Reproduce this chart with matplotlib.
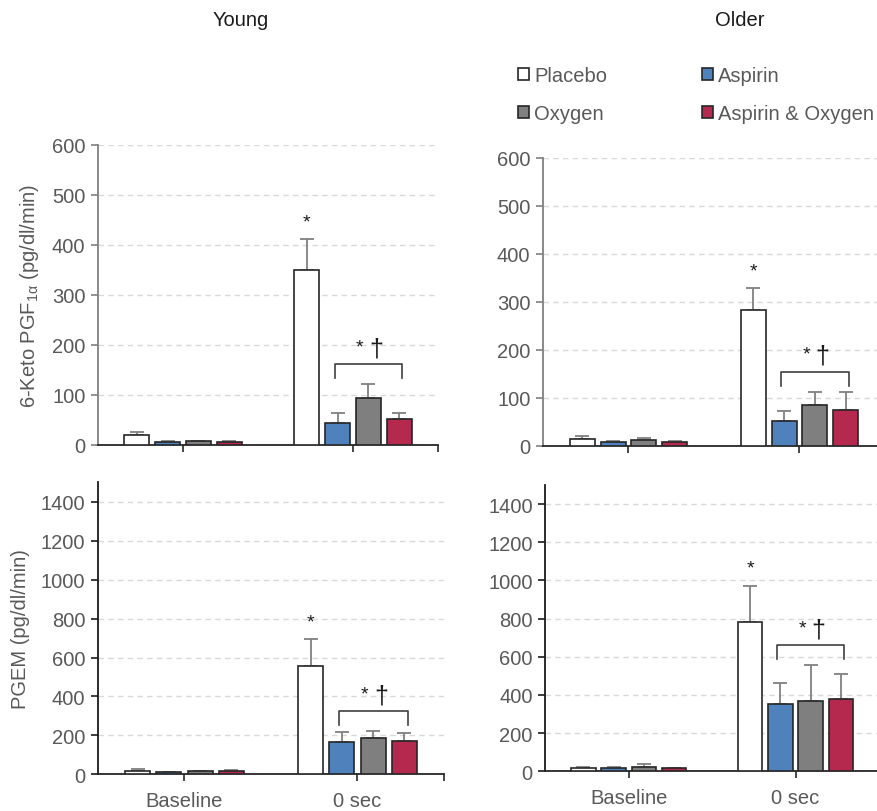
import numpy as np
import matplotlib
matplotlib.use('Agg')
import matplotlib.pyplot as plt
from matplotlib.patches import Patch

plt.rcParams['font.family'] = ['Liberation Sans', 'DejaVu Sans']
plt.rcParams['mathtext.default'] = 'regular'

groups = ['Baseline', '0 sec']
treatments = ['Placebo', 'Aspirin', 'Oxygen', 'Aspirin & Oxygen']
colors = ['#ffffff', '#4f81bd', '#7f7f7f', '#b5294e']

# 6-Keto PGF1a, young
young_pgf = [[19, 350], [5, 44], [7, 94], [5, 51]]
young_pgf_err = [[6, 61], [2, 19], [1, 27], [2, 12]]
# 6-Keto PGF1a, older
older_pgf = [[14, 284], [7, 52], [12, 84], [7, 74]]
older_pgf_err = [[7, 44], [3, 21], [5, 27], [3, 39]]
# PGEM, young
young_pgem = [[18, 558], [12, 164], [15, 189], [15, 171]]
young_pgem_err = [[9, 135], [2, 53], [4, 33], [6, 39]]
# PGEM, older
older_pgem = [[16, 780], [19, 355], [22, 366], [16, 381]]
older_pgem_err = [[8, 193], [3, 108], [15, 189], [3, 129]]

W, H = 878, 812
fig = plt.figure(figsize=(W / 100, H / 100), dpi=100)

# axes rectangles in pixels: x0, x1, y_top, y_bottom
boxes = {
    'tl': (98, 438, 146, 445.7),
    'tr': (543, 885, 159, 446.7),
    'bl': (98, 444, 483.3, 775.3),
    'br': (545.3, 879, 486, 772.3),
}

step = 0.181
bw = 0.146
tick_col = '#595959'


def make_axes(key):
    x0, x1, yt, yb = boxes[key]
    return fig.add_axes([x0 / W, 1 - yb / H, (x1 - x0) / W, (yb - yt) / H])


def panel(key, means, errs, ymax, yticks, xlabels, ylabel=None, spine_col='#808080'):
    ax = make_axes(key)
    x = np.arange(len(groups))
    for i in range(len(treatments)):
        pos = x + (i - 1.5) * step
        ax.bar(pos, means[i], bw, color=colors[i], edgecolor='#262626', linewidth=1.2, zorder=3)
        ax.errorbar(pos, means[i], yerr=[np.zeros(len(groups)), errs[i]], fmt='none',
                    ecolor='#808080', elinewidth=1.3, capsize=5, capthick=1.3, zorder=2)
    ax.set_xlim(-0.5, 1.5)
    ax.set_ylim(0, ymax)
    ax.set_yticks(yticks)
    ax.yaxis.grid(True, color='#d9d9d9', linestyle=(0, (4, 3)), linewidth=1)
    ax.set_axisbelow(True)
    for s in ['top', 'right']:
        ax.spines[s].set_visible(False)
    ax.spines['left'].set_color(spine_col)
    ax.spines['left'].set_linewidth(1.3)
    ax.spines['bottom'].set_color('#262626')
    ax.spines['bottom'].set_linewidth(1.3)
    ax.set_xticks([0, 1, 1.5])
    if xlabels:
        ax.set_xticklabels(groups + [''])
    else:
        ax.set_xticklabels(['', '', ''])
    ax.tick_params(axis='x', length=5, width=1.2, color='#262626', labelsize=14.5,
                   labelcolor=tick_col, pad=7)
    ax.tick_params(axis='y', length=5, width=1.2, color=spine_col, labelsize=14.5,
                   labelcolor=tick_col, pad=4)
    if ylabel:
        ax.set_ylabel(ylabel, fontsize=14.5, color=tick_col, labelpad=8)

    # pixels -> data units
    x0, x1, yt, yb = boxes[key]
    upp = ymax / (yb - yt)
    # asterisk above placebo at 0 sec
    ptop = means[0][1] + errs[0][1]
    ax.text(1 - 1.5 * step, ptop + 9 * upp, '*', ha='center', va='bottom', fontsize=14, color='#1a1a1a')
    # bracket over the three treatment bars
    top = max(means[i][1] + errs[i][1] for i in range(1, 4))
    yb_ = top + 20 * upp
    xl = 1 - 0.5 * step - 0.018
    xr = 1 + 1.5 * step + 0.018
    ax.plot([xl, xl, xr, xr], [yb_ - 14 * upp, yb_, yb_, yb_ - 14 * upp], color='#404040',
            linewidth=1.2, zorder=4, clip_on=False)
    xm = (xl + xr) / 2
    ax.text(xm - 0.05, yb_ + 9 * upp, '*', ha='center', va='bottom', fontsize=14, color='#1a1a1a')
    ax.text(xm + 0.045, yb_ + 4 * upp, '\u2020', ha='center', va='bottom', fontsize=18, color='#1a1a1a')
    return ax


panel('tl', young_pgf, young_pgf_err, 600, range(0, 601, 100), False,
      '6-Keto PGF$_{1α}$ (pg/dl/min)')
panel('tr', older_pgf, older_pgf_err, 600, range(0, 601, 100), False)
panel('bl', young_pgem, young_pgem_err, 1500, range(0, 1401, 200), True,
      'PGEM (pg/dl/min)', spine_col='#1a1a1a')
panel('br', older_pgem, older_pgem_err, 1500, range(0, 1401, 200), True, spine_col='#1a1a1a')

fig.text(241 / W, 1 - 20 / H, 'Young', ha='center', va='center', fontsize=14.5, color='#1a1a1a')
fig.text(740 / W, 1 - 20 / H, 'Older', ha='center', va='center', fontsize=14.5, color='#1a1a1a')

handles = [Patch(facecolor=c, edgecolor='#262626', linewidth=1.2) for c in colors]
order = [0, 2, 1, 3]
fig.legend([handles[i] for i in order], [treatments[i] for i in order], ncol=2,
           loc='upper left', bbox_to_anchor=(518 / W, 1 - 67 / H), frameon=False,
           fontsize=14.5, handlelength=0.55, handleheight=0.55, handletextpad=0.25,
           columnspacing=4.7, labelspacing=0.95, borderpad=0, borderaxespad=0,
           labelcolor=tick_col)

fig.savefig('out.png', dpi=100)
